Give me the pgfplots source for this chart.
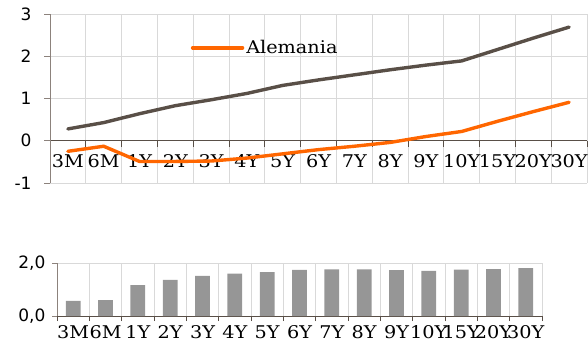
\documentclass[border=0pt]{standalone}
\usepackage{fontspec}
\setmainfont[FakeStretch=1.1]{DejaVu Serif}
\newfontfamily\ysans{DejaVu Sans}
\usepackage{pgfplots}
\pgfplotsset{compat=1.18}
\definecolor{orng}{RGB}{255,102,0}
\definecolor{dark}{RGB}{89,79,71}
\definecolor{gridc}{RGB}{217,217,217}
\definecolor{barc}{RGB}{150,150,150}
\definecolor{axc}{RGB}{140,130,124}
\pgfplotsset{every tick label/.append style={font=\fontsize{17.5}{20}\selectfont}}
\begin{document}
\begin{tikzpicture}[x=1pt,y=1pt]
\useasboundingbox (0,0) rectangle (588,349);
\begin{axis}[
 at={(50pt,166pt)}, anchor=south west,
 scale only axis, width=537pt, height=169pt,
 xmin=-0.5, xmax=14.5, ymin=-1, ymax=3,
 axis x line=middle, axis y line=left,
 axis line style={-},
 x axis line style={dark, line width=0.8pt},
 y axis line style={axc, line width=0.8pt},
 tick align=outside, major tick length=6pt,
 hide obscured x ticks=false, hide obscured y ticks=false,
 xtick style={dark, line width=1pt},
 ytick style={axc, line width=1pt},
 xtick={-0.5,0.5,...,14.5},
 xticklabels={3M,6M,1Y,2Y,3Y,4Y,5Y,6Y,7Y,8Y,9Y,10Y,15Y,20Y,30Y,{}},
 xticklabel style={xshift=17.9pt, inner sep=0pt, anchor=center, yshift=-14pt},
 ytick={-1,0,1,2,3},
 yticklabels={-1,0,1,2,3},
 yticklabel style={font=\ysans\fontsize{17}{20}\selectfont, xshift=-9pt},
 grid=major, grid style={gridc, line width=0.8pt},
 clip=false,
 legend style={at={(0.262,0.80)}, anchor=west, draw=none, fill=none,
   font=\fontsize{17.5}{20}\selectfont, inner sep=0pt},
 legend image code/.code={\draw[#1, line cap=round] (0pt,0pt) -- (50pt,0pt);},
]
\addplot[dark, line width=3.4pt, line cap=round, forget plot] coordinates {
(0,0.28)(1,0.43)(2,0.64)(3,0.83)(4,0.97)(5,1.12)(6,1.31)(7,1.44)(8,1.56)(9,1.68)(10,1.79)(11,1.89)(12,2.16)(13,2.43)(14,2.69)};
\addplot[orng, line width=3.4pt, line cap=round] coordinates {
(0,-0.25)(1,-0.13)(2,-0.49)(3,-0.49)(4,-0.48)(5,-0.41)(6,-0.31)(7,-0.21)(8,-0.13)(9,-0.04)(10,0.10)(11,0.22)(12,0.46)(13,0.69)(14,0.91)};
\addlegendentry{Alemania}
\end{axis}
\begin{axis}[
 at={(57pt,33pt)}, anchor=south west,
 scale only axis, width=485pt, height=53pt,
 xmin=-0.5, xmax=14.5, ymin=0, ymax=2,
 axis x line=bottom, axis y line=left,
 axis line style={-},
 x axis line style={dark, line width=0.8pt},
 y axis line style={axc, line width=0.8pt},
 tick align=outside, major tick length=5pt,
 hide obscured x ticks=false, hide obscured y ticks=false,
 xtick style={dark, line width=1pt},
 ytick style={axc, line width=1pt},
 xtick={-0.5,0.5,...,14.5},
 xticklabels={3M,6M,1Y,2Y,3Y,4Y,5Y,6Y,7Y,8Y,9Y,10Y,15Y,20Y,30Y,{}},
 xticklabel style={xshift=16.17pt, inner sep=0pt, anchor=center, yshift=-11pt},
 ytick={0,2},
 yticklabels={{0,0},{2,0}},
 yticklabel style={font=\ysans\fontsize{17}{20}\selectfont, xshift=-3pt},
 grid=major, grid style={gridc, line width=0.8pt},
 ybar, bar width=14.7pt,
 clip=false,
]
\addplot[fill=barc, draw=none] coordinates {
(0,0.57)(1,0.60)(2,1.17)(3,1.36)(4,1.51)(5,1.60)(6,1.66)(7,1.74)(8,1.76)(9,1.76)(10,1.73)(11,1.70)(12,1.75)(13,1.77)(14,1.81)};
\end{axis}
\end{tikzpicture}
\end{document}
